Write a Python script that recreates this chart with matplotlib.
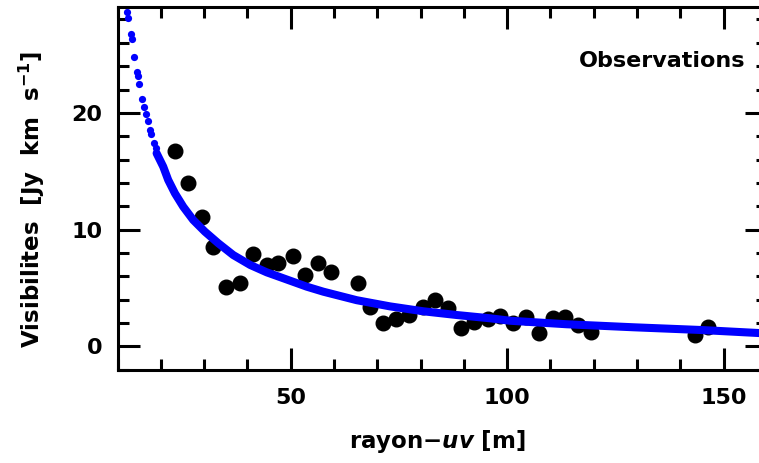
import matplotlib.pyplot as plt
from matplotlib.ticker import MultipleLocator

# binned observed visibilities
obs_r = [23.3, 26.3, 29.4, 32.1, 35.1, 38.3, 41.4, 44.5, 47.1, 50.5, 53.3, 56.4,
         59.3, 65.5, 68.2, 71.3, 74.3, 77.4, 80.5, 83.4, 86.3, 89.4, 92.4, 95.5,
         98.4, 101.3, 104.4, 107.4, 110.6, 113.4, 116.4, 119.4, 143.4, 146.4]
obs_v = [16.7, 14.0, 11.05, 8.55, 5.1, 5.4, 7.95, 7.0, 7.15, 7.7, 6.1, 7.1,
         6.4, 5.4, 3.35, 2.0, 2.3, 2.7, 3.4, 3.95, 3.25, 1.55, 2.05, 2.3,
         2.6, 2.0, 2.5, 1.15, 2.4, 2.5, 1.8, 1.25, 0.95, 1.65]

# model visibilities, sparse at short baselines
mod_r_sparse = [12.1, 12.47, 13.02, 13.25, 13.79, 14.41, 14.64, 15.01, 15.70,
                16.10, 16.56, 16.95, 17.48, 17.71, 18.40, 18.80]
mod_v_sparse = [28.6, 28.1, 26.76, 26.31, 24.81, 23.53, 23.16, 22.48, 21.19,
                20.53, 19.88, 19.31, 18.53, 18.19, 17.39, 16.97]

# model visibilities, dense part (reads as a band)
mod_r = [19.03, 20.56, 21.71, 23.26, 25.18, 27.49, 30.19, 33.27, 36.73, 40.64,
         44.45, 48.29, 53.70, 57.53, 65.25, 72.95, 80.64, 88.36, 96.05, 100.68,
         113.7, 129.2, 144.6, 160.0]
mod_v = [16.54, 15.39, 14.25, 13.11, 11.96, 10.82, 9.82, 8.83, 7.82, 6.97,
         6.34, 5.83, 5.11, 4.68, 3.95, 3.42, 3.00, 2.68, 2.40, 2.19,
         1.89, 1.63, 1.40, 1.10]

plt.rcParams['font.family'] = ['DejaVu Sans']
plt.rcParams['font.weight'] = 'bold'
plt.rcParams['axes.labelweight'] = 'bold'
plt.rcParams['mathtext.fontset'] = 'dejavusans'
plt.rcParams['mathtext.default'] = 'bf'

W, H = 759, 463
fig = plt.figure(figsize=(W / 100, H / 100), dpi=100)
ax = fig.add_axes([117.5 / W, 1 - 370 / H, (767 - 117.5) / W, 363 / H])

ax.plot(obs_r, obs_v, 'o', color='black', markersize=10.5, zorder=2)
ax.plot(mod_r_sparse, mod_v_sparse, 'o', color='blue', markersize=5.2,
        markeredgewidth=0, zorder=3)
ax.plot(mod_r, mod_v, '-', color='blue', linewidth=5.8,
        solid_capstyle='round', solid_joinstyle='round', zorder=3)

ax.set_xlim(10, 160)
ax.set_ylim(-2.03, 29.07)

ax.xaxis.set_major_locator(MultipleLocator(50))
ax.xaxis.set_minor_locator(MultipleLocator(10))
ax.yaxis.set_major_locator(MultipleLocator(10))
ax.yaxis.set_minor_locator(MultipleLocator(2))

ax.tick_params(which='both', direction='in', top=True, right=True,
               width=2.2, labelsize=16)
ax.tick_params(which='major', length=16)
ax.tick_params(which='minor', length=8)
ax.tick_params(axis='x', which='major', pad=13)
ax.tick_params(axis='y', which='major', pad=11)
for s in ax.spines.values():
    s.set_linewidth(2.2)

ax.set_xlabel(r'rayon$-\mathit{uv}$ [m]', fontsize=16.5, fontweight='bold')
ax.xaxis.set_label_coords((437 - 117.5) / 649.5, (370 - 428) / 363)
ax.set_ylabel(r'Visibilites  [Jy  km  s$^{-1}$]', fontsize=16.5,
              fontweight='bold')
ax.yaxis.set_label_coords((47 - 117.5) / 649.5, (370 - 199) / 363)

fig.text(745 / W, 1 - 67 / H, 'Observations', fontsize=16,
         ha='right', va='baseline')

fig.savefig('out.png', dpi=100)
